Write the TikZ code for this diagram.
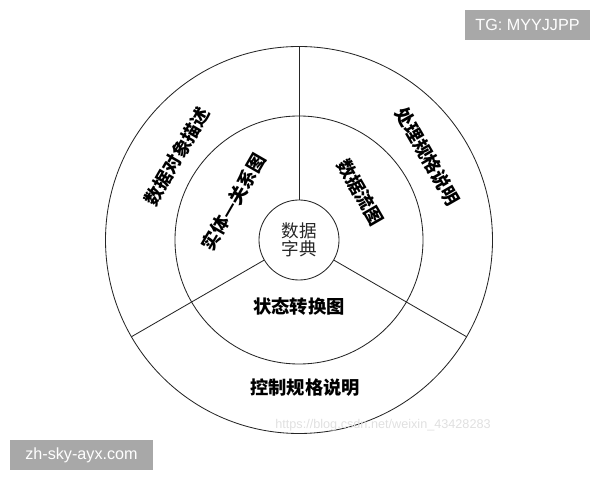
\documentclass[tikz,border=0pt]{standalone}
\usepackage{fontspec}
\newfontfamily\cjk{Noto Sans CJK SC}
\newfontfamily\wmfont{Liberation Sans}
\begin{document}
\begin{tikzpicture}[scale=.025,
  ring/.style={line width=.6pt,black!85},
  lbl/.style={font=\cjk\bfseries\fontsize{13}{15}\selectfont,inner sep=0pt},
  tag/.style={fill=black!34,text=white,font=\wmfont\fontsize{11.5}{13}\selectfont,minimum height=.75cm}]
\useasboundingbox (-299,-240) rectangle (301,240);
\draw[ring] (0,0) circle (193.5);
\draw[ring] (0,0) circle (124);
\node[ring,draw,circle,minimum size=2cm,align=center,font=\cjk\fontsize{12.5}{12.5}\selectfont] (dict) at (0,0) {数据\\字典};
\coordinate (top) at (90:193.5);
\coordinate (lft) at (210:193.5);
\coordinate (rgt) at (330:193.5);
\draw[ring] (dict.90)--(top);
\draw[ring] (dict.210)--(lft);
\draw[ring] (dict.330)--(rgt);
% inner ring
\node[lbl,rotate=60] (er) at (-65.5,38) {实体—关系图};
\node[lbl,rotate=-60] (dfd) at (61.5,47.5) {数据流图};
\node[lbl] (std) at (0,-67) {状态转换图};
% outer ring
\node[lbl,rotate=60] (dod) at (-122,83.5) {数据对象描述};
\node[lbl,rotate=-60] (pspec) at (128.5,83.5) {处理规格说明};
\node[lbl] (cspec) at (6,-148) {控制规格说明};
% marks
\node[tag,minimum width=3.125cm] (tg) at (228.5,215) {TG: MYYJJPP};
\node[tag,minimum width=3.575cm] (site) at (-217.5,-215) {zh-sky-ayx.com};
\node[black!12,font=\wmfont\fontsize{9}{10}\selectfont] (url) at (84,-185) {https://blog.csdn.net/weixin\_43428283};
\end{tikzpicture}
\end{document}
